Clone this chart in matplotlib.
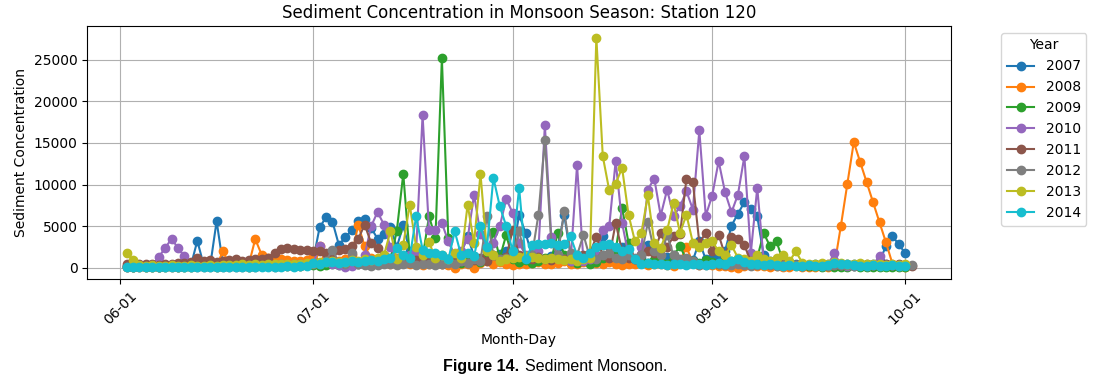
import matplotlib
matplotlib.use("Agg")
import matplotlib.pyplot as plt
import matplotlib.dates as mdates
import pandas as pd

# Daily sediment concentration, June 2 .. Oct 1 (2011/2012 run to Oct 2)
years = [2007, 2008, 2009, 2010, 2011, 2012, 2013, 2014]
start_date = "2000-06-02"  # dummy year, only month-day is shown

s2007 = (
    [150, 120, 180, 200, 160, 140, 210, 180, 250, 230,
     260, 3250, 300, 260, 5600, 350, 280, 240, 300, 260,
     320, 300, 350, 420, 380, 450, 500, 480, 520]
    + [900, 4850, 6060, 5540, 2730, 3700, 4490, 5580, 5900, 4800,
       3500, 4000, 4850, 2500, 5100, 2000, 1200, 900, 1100, 800,
       1300, 1000, 1500, 1800, 3770, 1400, 1000, 1200, 900, 1600, 2000]
    + [1800, 6380, 4180, 1500, 1200, 1000, 1400, 2500, 6380, 1500,
       1000, 800, 1200, 1500, 3850, 1200, 900, 2500, 1000, 800,
       1200, 2770, 700, 900, 1300, 1000, 800, 1100, 900, 3170, 1000]
    + [1200, 1500, 2000, 5060, 6500, 7860, 7070, 6180, 1500, 800,
       600, 500, 400, 450, 350, 300, 400, 350, 300, 400,
       350, 300, 400, 350, 300, 500, 800, 2600, 3800, 2800]
    + [1750]
)

s2008 = (
    [100, 120, 90, 150, 130, 110, 160, 140, 120, 180,
     200, 250, 220, 300, 350, 1960, 400, 300, 350, 400,
     3450, 1560, 1200, 1100, 1100, 900, 800, 850, 900]
    + [1500, 2650, 1200, 900, 800, 1000, 1500, 5180, 2560, 1200,
       800, 600, 500, 700, 600, 400, 500, 300, 400, 600,
       500, 300, 0, 500, 400, 0, 600, 800, 500, 700, 400]
    + [300, 500, 400, 600, 700, 500, 400, 600, 800, 500,
       400, 700, 900, 600, 500, 700, 400, 300, 500, 400,
       600, 300, 400, 500, 300, 200, 800, 2500, 600, 300, 400]
    + [300, 200, 250, 100, 0, 200, 300, 250, 200, 150,
       200, 150, 100, 200, 150, 100, 150, 200, 150, 300,
       5060, 10080, 15090, 12680, 10270, 7860, 5450, 3050, 500, 200]
    + [150]
)

s2009 = (
    [200, 150, 180, 120, 100, 150, 130, 170, 150, 120,
     140, 160, 200, 180, 150, 170, 200, 220, 180, 150,
     200, 180, 220, 250, 200, 230, 260, 240, 280]
    + [300, 250, 350, 400, 300, 350, 400, 500, 450, 600,
       800, 1200, 900, 4450, 11280, 1500, 800, 1200, 6180, 3600,
       25160, 3570, 900, 600, 800, 1000, 700, 1500, 4250, 1200, 3970]
    + [1000, 700, 900, 600, 800, 1200, 1000, 4180, 1500, 800,
       600, 900, 500, 700, 1200, 1500, 2000, 7220, 3000, 1000,
       800, 600, 900, 700, 500, 1560, 2560, 1000, 800, 600, 900]
    + [700, 500, 1000, 800, 600, 400, 500, 1200, 4180, 2560,
       3170, 800, 500, 300, 200, 250, 200, 150, 200, 100,
       150, 100, 200, 150, 100, 80, 120, 100, 150, 100]
    + [120]
)

s2010 = (
    [200, 250, 180, 220, 300, 1290, 2370, 3490, 2370, 1360,
     400, 300, 250, 200, 300, 250, 200, 300, 250, 350,
     300, 400, 350, 300, 400, 350, 500, 450, 400]
    + [600, 2560, 800, 500, 300, 100, 200, 400, 1500, 4970,
       6700, 5180, 2500, 1200, 800, 1500, 2000, 18340, 4580, 4580,
       5380, 3170, 1500, 2000, 3500, 8790, 4000, 2500, 3000, 5000, 8270]
    + [6590, 3000, 1500, 1200, 2000, 17130, 3690, 1500, 1000, 800,
       12320, 800, 1000, 1500, 4580, 4970, 12800, 5380, 1500, 1000,
       2500, 9390, 10720, 6260, 9390, 6180, 7380, 9190, 7000, 16490, 6260]
    + [8670, 12800, 9070, 6660, 8790, 13400, 1770, 9600, 960, 500,
       300, 250, 400, 300, 200, 350, 300, 250, 400, 1770,
       300, 200, 250, 300, 200, 350, 1440, 400, 300, 250]
    + [300]
)

s2011 = (
    [500, 400, 450, 500, 400, 350, 500, 450, 600, 550,
     700, 1170, 800, 900, 700, 800, 900, 1000, 800, 900,
     1000, 1100, 1200, 1800, 2200, 2370, 2300, 2170, 2100]
    + [2000, 1960, 1800, 1900, 2100, 2200, 2560, 3450, 5180, 3000,
       2370, 1500, 1200, 800, 1000, 600, 900, 700, 1200, 800,
       500, 700, 1000, 800, 600, 900, 1200, 800, 1500, 1000, 1300]
    + [4500, 1500, 1200, 1000, 1300, 1100, 900, 1200, 1000, 1400,
       1200, 1500, 1800, 3690, 1500, 1200, 5380, 2000, 1200, 1000,
       1500, 2000, 1800, 4180, 2500, 3770, 4000, 10720, 10270, 3000, 4180]
    + [2000, 3970, 1500, 3690, 3450, 2690, 800, 600, 500, 400,
       500, 400, 300, 350, 400, 300, 350, 400, 300, 350,
       300, 400, 350, 300, 400, 350, 300, 400, 350, 400]
    + [300, 250]
)

s2012 = (
    [100, 150, 120, 100, 80, 120, 150, 100, 130, 120,
     150, 100, 120, 150, 130, 100, 120, 150, 100, 120,
     150, 180, 200, 150, 180, 200, 220, 250, 300]
    + [400, 500, 800, 2170, 600, 500, 1770, 400, 300, 200,
       300, 400, 500, 300, 400, 600, 300, 500, 400, 300,
       500, 600, 400, 800, 600, 1000, 800, 6260, 1500, 1000, 1200]
    + [1500, 4370, 1200, 1500, 6380, 15290, 3000, 1500, 6780, 1800,
       1500, 3970, 1200, 1000, 1500, 1800, 1200, 1000, 1500, 1200,
       1500, 5450, 2000, 1500, 3890, 1500, 1000, 1200, 800, 300, 300]
    + [500, 400, 300, 350, 400, 300, 250, 300, 400, 300,
       250, 300, 350, 300, 250, 300, 350, 300, 250, 300,
       350, 300, 250, 300, 350, 300, 250, 300, 350, 300]
    + [300, 350]
)

s2013 = (
    [1770, 960, 300, 250, 300, 200, 250, 300, 200, 250,
     300, 250, 200, 300, 250, 300, 350, 300, 400, 350,
     400, 350, 400, 450, 400, 500, 450, 500, 550]
    + [600, 700, 650, 800, 700, 750, 900, 800, 1000, 900,
       1200, 1500, 4370, 1000, 2770, 7580, 2500, 1500, 3050, 1200,
       1500, 1000, 1800, 1200, 7580, 3000, 11280, 2000, 1500, 800, 1000]
    + [1200, 1300, 1400, 1300, 1200, 1100, 1200, 1000, 900, 1100,
       800, 1000, 1200, 27650, 13400, 9310, 10110, 12000, 6380, 3170,
       4180, 8700, 3000, 2370, 4500, 7790, 4180, 6380, 3000, 2500, 2970]
    + [3170, 2000, 1500, 2700, 1200, 1000, 800, 1500, 1000, 800,
       1200, 1560, 800, 1960, 600, 500, 400, 600, 500, 700,
       600, 500, 400, 600, 500, 400, 500, 300, 400, 300]
    + [400]
)

s2014 = (
    [50, 80, 60, 40, 70, 50, 80, 60, 90, 70,
     60, 80, 100, 70, 90, 110, 80, 100, 120, 90,
     110, 130, 100, 150, 120, 160, 140, 180, 200]
    + [600, 500, 700, 650, 600, 750, 800, 700, 850, 900,
       800, 1000, 1200, 2370, 1500, 1200, 6180, 2170, 1800, 1800,
       1500, 1000, 4370, 1500, 1800, 1400, 4970, 2500, 10800, 7380, 5000]
    + [2000, 9600, 1000, 2690, 2900, 2800, 3000, 2700, 2800, 3770,
       1500, 1200, 1800, 2500, 2770, 2900, 2500, 2000, 2200, 1000,
       500, 600, 400, 500, 300, 400, 500, 300, 400, 500, 300]
    + [400, 600, 500, 800, 1000, 700, 500, 400, 300, 400,
       300, 250, 300, 200, 250, 300, 200, 250, 300, 600,
       500, 400, 300, 250, 200, 300, 250, 200, 300, 250]
    + [200]
)

series = [s2007, s2008, s2009, s2010, s2011, s2012, s2013, s2014]
colors = ["#1f77b4", "#ff7f0e", "#2ca02c", "#9467bd",
          "#8c564b", "#7f7f7f", "#bcbd22", "#17becf"]

fig = plt.figure(figsize=(10.99, 3.79), dpi=100)
ax = fig.add_axes([0.0794, 0.263, 0.7859, 0.6684])

for year, vals, col in zip(years, series, colors):
    dates = pd.date_range(start_date, periods=len(vals), freq="D")
    ax.plot(dates, vals, marker="o", color=col, label=str(year))

ax.set_title("Sediment Concentration in Monsoon Season: Station 120")
ax.set_xlabel("Month-Day")
ax.set_ylabel("Sediment Concentration")
ax.xaxis.set_major_locator(mdates.MonthLocator())
ax.xaxis.set_major_formatter(mdates.DateFormatter("%m-%d"))
plt.setp(ax.get_xticklabels(), rotation=45)
ax.grid(True)
ax.legend(title="Year", bbox_to_anchor=(1.05, 1), loc="upper left")

fig.text(519 / 1099, 0.034, "Figure 14.", ha="right", va="center",
         family="Liberation Sans", weight="bold", fontsize=11.5)
fig.text(525 / 1099, 0.034, "Sediment Monsoon.", ha="left", va="center",
         family="Liberation Sans", fontsize=11.5)

fig.savefig("out.png", dpi=100)
